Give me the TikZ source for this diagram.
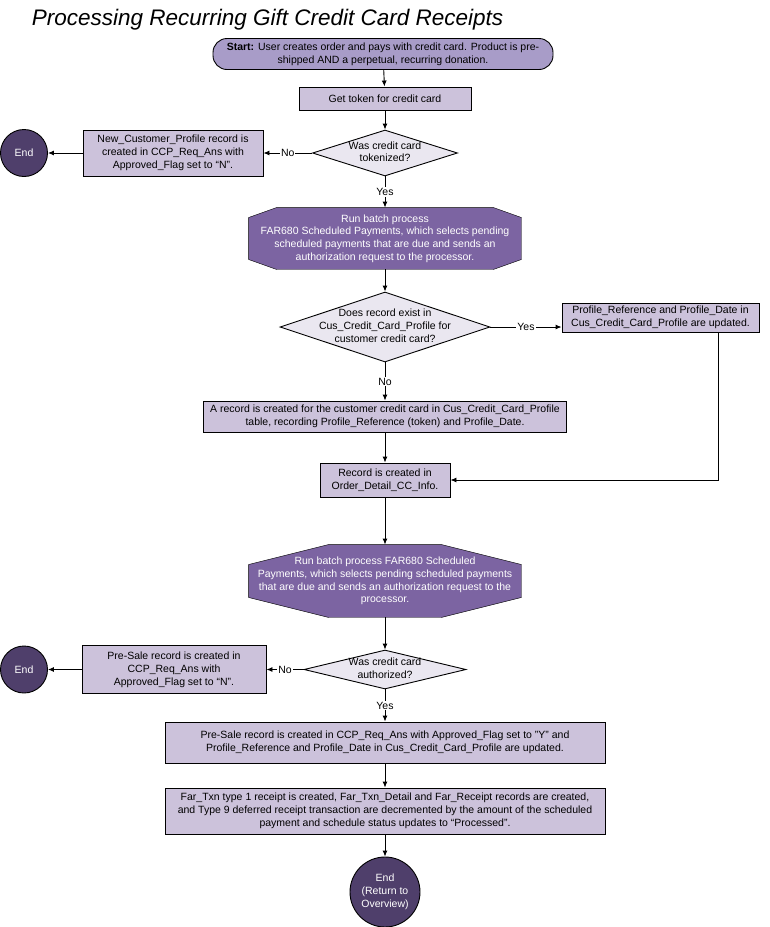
\documentclass[tikz,border=0pt]{standalone}
\usepackage{fontspec}
\setmainfont{Liberation Sans}
\usetikzlibrary{shapes.geometric,arrows.meta,backgrounds}

\definecolor{startlilac}{RGB}{168,156,200}
\definecolor{boxlilac}{RGB}{204,194,219}
\definecolor{decgrey}{RGB}{234,231,240}
\definecolor{batchpurple}{RGB}{124,100,162}
\definecolor{endpurple}{RGB}{79,63,107}

% text that does not widen the shape round it
\newcommand{\flattext}[1]{\makebox[0pt]{\smash{\raisebox{-0.25em}{\begin{tabular}{@{}c@{}}#1\end{tabular}}}}}
% octagon behind a batch node: node, cut in x, cut in y
\newcommand{\batchoutline}[3]{%
  \filldraw[fill=batchpurple] ([xshift=#2]#1.north west) -- ([xshift=-#2]#1.north east) -- ([yshift=-#3]#1.north east)
    -- ([yshift=#3]#1.south east) -- ([xshift=-#2]#1.south east) -- ([xshift=#2]#1.south west)
    -- ([yshift=#3]#1.south west) -- ([yshift=-#3]#1.north west) -- cycle;}

\begin{document}
\begin{tikzpicture}[x=1pt, y=-1pt, line width=0.9pt, >={Latex[length=6pt,width=5pt]},
    font=\fontsize{10.5}{12.8}\selectfont,
    startbox/.style={draw, fill=startlilac, rounded corners=14pt, minimum width=340pt, minimum height=31pt, align=center, inner sep=1pt},
    procbox/.style={draw, fill=boxlilac, align=center, inner sep=1pt},
    decision/.style={draw, fill=decgrey, diamond, inner sep=0pt},
    batch/.style={align=center, text=white, inner sep=0pt},
    endnode/.style={draw, circle, fill=endpurple, text=white, align=center, inner sep=1pt},
    answer/.style={fill=white, inner sep=1pt}]
  \useasboundingbox (0,0) rectangle (769,927);

  \node[anchor=base west, font=\fontsize{22.5}{26}\selectfont\itshape] (title) at (28,25) {Processing Recurring Gift Credit Card Receipts};

  \node[startbox] (start) at (383,54) {\textbf{Start:} User creates order and pays with credit card. Product is pre-\\shipped AND a perpetual, recurring donation.};
  \node[procbox, minimum width=172pt, minimum height=23pt] (token) at (385,98.5) {Get token for credit card};
  \node[decision, minimum width=145pt, minimum height=46pt] (tokq) at (385,153) {\flattext{Was credit card\\tokenized?}};
  \node[procbox, minimum width=180pt, minimum height=46pt] (newprof) at (173,153) {New\_Customer\_Profile record is\\created in CCP\_Req\_Ans with\\Approved\_Flag set to “N”.};
  \node[endnode, minimum size=47pt] (endA) at (24,153) {End};

  \node[batch, minimum width=272pt, minimum height=61pt] (batchA) at (385,238.5) {Run batch process\\FAR680 Scheduled Payments, which selects pending\\scheduled payments that are due and sends an\\authorization request to the processor.};
  \node[decision, minimum width=210pt, minimum height=70pt] (profq) at (385,327) {\flattext{Does record exist in\\Cus\_Credit\_Card\_Profile for\\customer credit card?}};
  \node[procbox, minimum width=197pt, minimum height=29pt] (profupd) at (660.5,317.5) {Profile\_Reference and Profile\_Date in\\Cus\_Credit\_Card\_Profile are updated.};
  \node[procbox, minimum width=363pt, minimum height=31pt] (newrec) at (385,416.5) {A record is created for the customer credit card in Cus\_Credit\_Card\_Profile\\table, recording Profile\_Reference (token) and Profile\_Date.};
  \node[procbox, minimum width=130pt, minimum height=34pt] (ccinfo) at (385,480) {Record is created in\\Order\_Detail\_CC\_Info.};

  \node[batch, minimum width=272pt, minimum height=72pt] (batchB) at (385,581) {Run batch process FAR680 Scheduled\\Payments, which selects pending scheduled payments\\that are due and sends an authorization request to the\\processor.};
  \node[decision, minimum width=162pt, minimum height=39pt] (authq) at (385,669.5) {\flattext{Was credit card\\authorized?}};
  \node[procbox, minimum width=184pt, minimum height=48pt] (presaleN) at (174,669.5) {Pre-Sale record is created in\\CCP\_Req\_Ans with\\Approved\_Flag set to “N”.};
  \node[endnode, minimum size=47pt] (endB) at (24,669.5) {End};
  \node[procbox, minimum width=440pt, minimum height=41pt] (presaleY) at (385,742.5) {Pre-Sale record is created in CCP\_Req\_Ans with Approved\_Flag set to "Y" and\\Profile\_Reference and Profile\_Date in Cus\_Credit\_Card\_Profile are updated.};
  \node[procbox, minimum width=440pt, minimum height=46pt] (receipt) at (385,811) {Far\_Txn type 1 receipt is created, Far\_Txn\_Detail and Far\_Receipt records are created,\\and Type 9 deferred receipt transaction are decremented by the amount of the scheduled\\payment and schedule status updates to “Processed”.};
  \node[endnode, minimum size=70pt] (endC) at (385,892) {End\\(Return to\\Overview)};

  \begin{scope}[on background layer]
    \batchoutline{batchA}{28pt}{10pt}
    \batchoutline{batchB}{80pt}{20pt}
  \end{scope}

  % connectors
  \draw[->] (start) -- (token);
  \draw[->] (token) -- (tokq);
  \draw[->] (tokq) -- node[answer]{No} (newprof);
  \draw[->] (newprof) -- (endA);
  \draw[->] (tokq) -- node[answer]{Yes} (batchA);
  \draw[->] (batchA) -- (profq);
  \draw[->] (profq.east) -- node[answer]{Yes} (profq.east -| profupd.west);
  \draw[->] (profq) -- node[answer]{No} (newrec);
  \draw[->] (newrec) -- (ccinfo);
  \draw[->] ([xshift=57.5pt]profupd.south) |- (ccinfo.east);
  \draw[->] (ccinfo) -- (batchB);
  \draw[->] (batchB) -- (authq);
  \draw[->] (authq) -- node[answer]{No} (presaleN);
  \draw[->] (presaleN) -- (endB);
  \draw[->] (authq) -- node[answer]{Yes} (presaleY);
  \draw[->] (presaleY) -- (receipt);
  \draw[->] (receipt) -- (endC);
\end{tikzpicture}
\end{document}
